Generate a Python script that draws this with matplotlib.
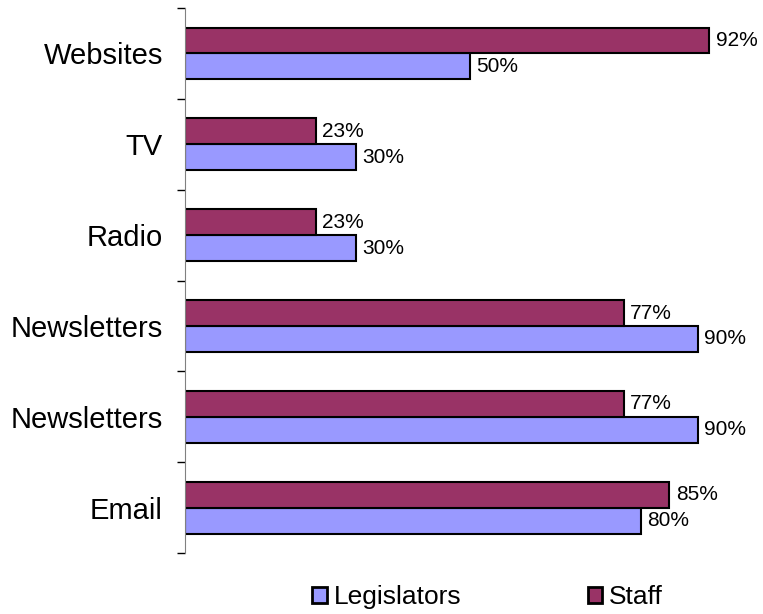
import matplotlib.pyplot as plt
import numpy as np

plt.rcParams['font.family'] = ['Liberation Sans', 'DejaVu Sans']

categories = ['Email', 'Newsletters', 'Newsletters', 'Radio', 'TV', 'Websites']
legislators = [80, 90, 90, 30, 30, 50]
staff = [85, 77, 77, 23, 23, 92]

fig = plt.figure(figsize=(7.63, 6.14), dpi=100)
ax = fig.add_axes([0.2425, 0.0993, 0.747, 0.8876])

y = np.arange(len(categories))
h = 0.285
b1 = ax.barh(y - h / 2, legislators, h, color='#9999FF', edgecolor='black', linewidth=1.5, label='Legislators')
b2 = ax.barh(y + h / 2, staff, h, color='#993366', edgecolor='black', linewidth=1.5, label='Staff')

for bars, vals in [(b1, legislators), (b2, staff)]:
    for bar, v in zip(bars, vals):
        ax.text(bar.get_width() + 1.1, bar.get_y() + bar.get_height() / 2, '%d%%' % v,
                va='center', ha='left', fontsize=15)

ax.set_xlim(0, 100)
ax.set_ylim(-0.5, len(categories) - 0.5)

# ticks at category boundaries, labels at centres
ax.set_yticks(np.arange(len(categories) + 1) - 0.5)
ax.set_yticklabels([])
ax.set_yticks(y, minor=True)
ax.set_yticklabels(categories, minor=True, fontsize=21)
ax.tick_params(axis='y', which='major', length=6, width=1, color='black', direction='out')
ax.tick_params(axis='y', which='minor', length=0, pad=16)
ax.set_xticks([])

for s in ['top', 'right', 'bottom']:
    ax.spines[s].set_visible(False)
ax.spines['left'].set_color('#808080')

leg = fig.legend(handles=[b1, b2], loc='center', bbox_to_anchor=(0.639, 0.027), ncol=2,
                 frameon=False, fontsize=19, handlelength=0.55, handleheight=0.55,
                 handletextpad=0.25, columnspacing=4.8)
for p in leg.get_patches():
    p.set_linewidth(2)

fig.savefig('out.png', dpi=100)
